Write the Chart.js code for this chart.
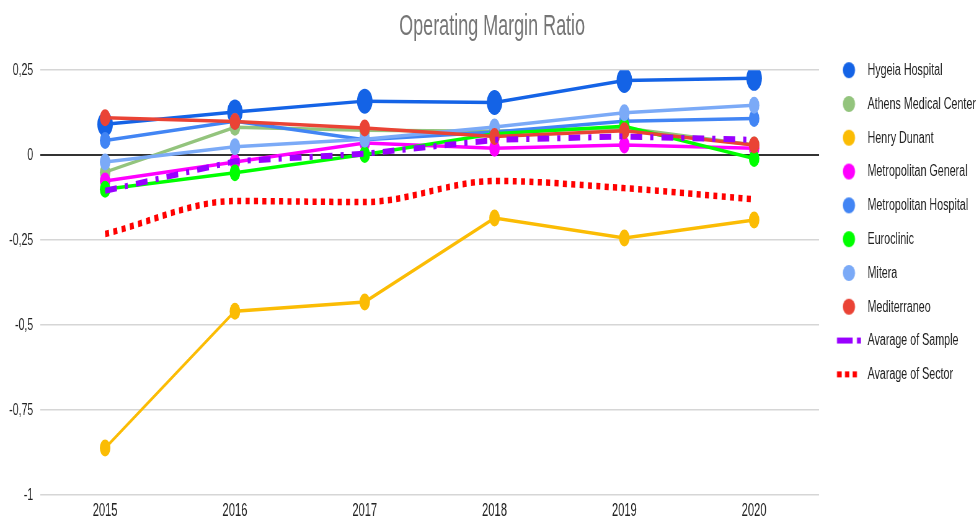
<!DOCTYPE html>
<html>
<head>
<meta charset="utf-8">
<title>Operating Margin Ratio</title>
<script src="https://cdn.jsdelivr.net/npm/chart.js@4.4.1/dist/chart.umd.min.js"></script>
<style>
  html, body { margin: 0; padding: 0; background: #fff; overflow: hidden; }
  #wrap { width: 979px; height: 519px; overflow: hidden; }
  /* the original chart is squeezed horizontally, so draw wide and squeeze */
  #chart { transform: scaleX(0.62); transform-origin: 0 0; }
</style>
</head>
<body>
<div id="wrap"><canvas id="chart" width="1579" height="519"></canvas></div>
<script>
const years = ['2015', '2016', '2017', '2018', '2019', '2020'];
const yTickValues = [-1, -0.75, -0.5, -0.25, 0, 0.25];

const hygeia        = [0.091, 0.127, 0.159, 0.155, 0.220, 0.226];
const athens        = [-0.050, 0.082, 0.073, 0.070, 0.080, 0.030];
const henryDunant   = [-0.862, -0.459, -0.432, -0.185, -0.244, -0.191];
const metroGeneral  = [-0.076, -0.020, 0.036, 0.020, 0.030, 0.020];
const metroHospital = [0.043, 0.100, 0.045, 0.068, 0.100, 0.108];
const euroclinic    = [-0.100, -0.052, 0.002, 0.063, 0.085, -0.010];
const mitera        = [-0.020, 0.025, 0.047, 0.083, 0.125, 0.147];
const mediterraneo  = [0.110, 0.099, 0.080, 0.055, 0.072, 0.030];
const sampleAvg     = [-0.105, -0.018, 0.004, 0.045, 0.055, 0.045];
const sectorAvg     = [-0.232, -0.135, -0.138, -0.076, -0.097, -0.130];

const FONT = 'Arial, "Liberation Sans", sans-serif';
Chart.defaults.font.family = FONT;

// legend icons
function dotIcon(color) {
  const c = document.createElement('canvas');
  c.width = 53; c.height = 20;
  const g = c.getContext('2d');
  g.fillStyle = color;
  g.beginPath();
  g.ellipse(31.7, 10, 9.9, 8, 0, 0, Math.PI * 2);
  g.fill();
  return c;
}
function barIcon(color, segs) {
  const c = document.createElement('canvas');
  c.width = 53; c.height = 20;
  const g = c.getContext('2d');
  g.fillStyle = color;
  segs.forEach(s => g.fillRect(s[0], 7, s[1] - s[0], 6));
  return c;
}

function series(label, data, color, radius) {
  return {
    label: label, data: data,
    borderColor: color, backgroundColor: color,
    borderWidth: 3.5, pointRadius: radius, pointBorderWidth: 0,
    pointBackgroundColor: color, pointHoverRadius: radius,
    tension: 0, fill: false,
    legendIcon: dotIcon(color)
  };
}

const datasets = [
  series('Hygeia Hospital', hygeia, '#1463e6', 12.5),
  series('Athens Medical Center', athens, '#93c47d', 8.5),
  series('Henry Dunant', henryDunant, '#fbbc04', 8.5),
  series('Metropolitan General', metroGeneral, '#ff00ff', 8.5),
  series('Metropolitan Hospital', metroHospital, '#4285f4', 8.5),
  series('Euroclinic', euroclinic, '#00ff00', 8.5),
  series('Mitera', mitera, '#7baaf7', 8.5),
  series('Mediterraneo', mediterraneo, '#ea4335', 8.5),
  {
    label: 'Avarage of Sample', data: sampleAvg,
    borderColor: '#9900ff', backgroundColor: '#9900ff',
    borderWidth: 6, borderDash: [19, 13, 5, 13], pointRadius: 0, tension: 0,
    legendIcon: barIcon('#9900ff', [[12.4, 37.7], [44.6, 51]])
  },
  {
    label: 'Avarage of Sector', data: sectorAvg,
    borderColor: '#ff0000', backgroundColor: '#ff0000',
    borderWidth: 6.5, borderDash: [6.5, 7], pointRadius: 0,
    cubicInterpolationMode: 'monotone',
    legendIcon: barIcon('#ff0000', [[12.4, 20], [25.3, 32.2], [37.7, 44.6]])
  }
];
datasets.forEach((d, i) => { d.order = 20 - i; });

new Chart(document.getElementById('chart'), {
  type: 'line',
  data: { labels: years, datasets: datasets },
  options: {
    responsive: false,
    animation: false,
    events: [],
    layout: { padding: { left: 3.5, right: -5, top: 0, bottom: 0 } },
    plugins: {
      title: {
        display: true,
        text: 'Operating Margin Ratio',
        color: '#757575',
        font: { size: 29, weight: 'normal', family: FONT },
        padding: { top: 10, bottom: 0 }
      },
      legend: {
        position: 'right',
        align: 'start',
        title: {
          display: true,
          text: ' ',
          font: { size: 10, lineHeight: 1 },
          padding: { top: 35, bottom: 0 }
        },
        labels: {
          usePointStyle: true,
          pointStyleWidth: 53,
          padding: 16.5,
          color: '#222',
          font: { size: 17.3, family: FONT },
          generateLabels(chart) {
            return chart.data.datasets.map((ds, i) => ({
              text: ds.label,
              datasetIndex: i,
              pointStyle: ds.legendIcon,
              fillStyle: ds.borderColor,
              strokeStyle: ds.borderColor,
              lineWidth: 0,
              hidden: false,
              fontColor: '#222'
            }));
          }
        }
      },
      tooltip: { enabled: false }
    },
    scales: {
      x: {
        offset: true,
        grid: { display: false, drawTicks: false },
        border: { display: false },
        ticks: {
          color: '#222', maxRotation: 0, padding: 7,
          font: { size: 18, lineHeight: 1, family: FONT }
        },
        afterFit(scale) { scale.height = 24; }
      },
      xTop: {
        type: 'category',
        position: 'top',
        grid: { display: false, drawTicks: false },
        border: { display: false },
        ticks: { display: false },
        afterFit(scale) { scale.height = 25.4; }
      },
      y: {
        min: -1,
        max: 0.25,
        afterBuildTicks(axis) { axis.ticks = yTickValues.map(v => ({ value: v })); },
        border: { display: false },
        grid: {
          drawTicks: false,
          color: c => (c.tick && c.tick.value === 0) ? '#333333' : '#d6d6d6',
          lineWidth: c => (c.tick && c.tick.value === 0) ? 2 : 1.5
        },
        ticks: {
          color: '#222', padding: 11.3,
          font: { size: 17, family: FONT },
          callback: v => String(v).replace('.', ',')
        }
      }
    }
  }
});
</script>
</body>
</html>
